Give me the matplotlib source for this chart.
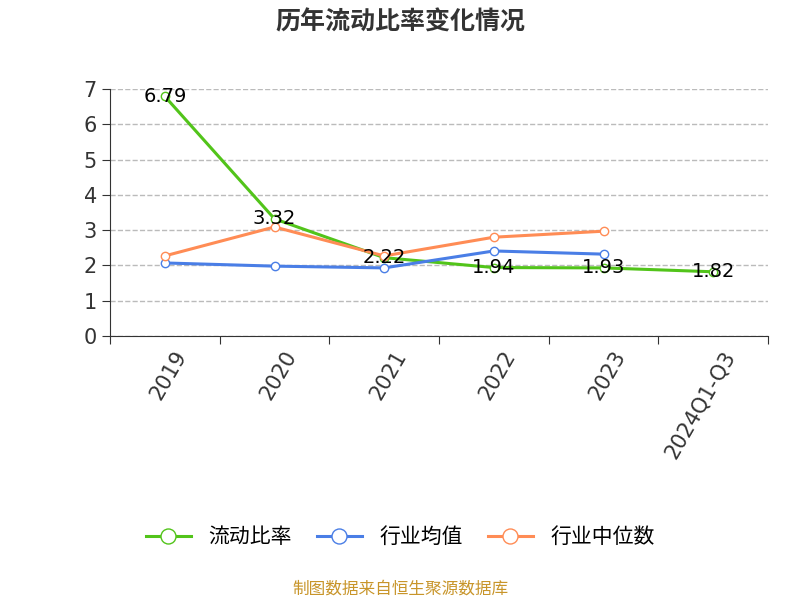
import matplotlib
matplotlib.use("Agg")
import matplotlib.pyplot as plt

plt.rcParams["font.family"] = ["Noto Sans CJK JP", "Noto Sans CJK SC", "Noto Sans CJK TC",
                               "Noto Sans CJK KR", "DejaVu Sans"]

categories = ["2019", "2020", "2021", "2022", "2023", "2024Q1-Q3"]
current_ratio = [6.79, 3.32, 2.22, 1.94, 1.93, 1.82]
industry_mean = [2.07, 1.98, 1.93, 2.41, 2.32]
industry_median = [2.27, 3.09, 2.27, 2.80, 2.97]

GREEN = "#52c41a"
BLUE = "#4a7ee6"
ORANGE = "#ff8c55"

fig = plt.figure(figsize=(8, 6), dpi=100)
ax = fig.add_axes([110 / 800, 1 - 336 / 600, 658 / 800, 247 / 600])

x = list(range(len(categories)))
ax.plot(x, current_ratio, color=GREEN, lw=2.2, marker="o", ms=6,
        mfc="white", mec=GREEN, label="流动比率", zorder=3)
ax.plot(x[:len(industry_mean)], industry_mean, color=BLUE, lw=2.2, marker="o", ms=6,
        mfc="white", mec=BLUE, label="行业均值", zorder=3)
ax.plot(x[:len(industry_median)], industry_median, color=ORANGE, lw=2.2, marker="o", ms=6,
        mfc="white", mec=ORANGE, label="行业中位数", zorder=3)

for i, v in enumerate(current_ratio):
    ax.text(i, v, f"{v:.2f}", ha="center", va="center", fontsize=14, color="black", zorder=4,
            fontfamily="DejaVu Sans")

ax.set_xlim(-0.5, len(categories) - 0.5)
ax.set_ylim(0, 7)
ax.set_yticks(range(8))
ax.set_xticks([i - 0.5 for i in range(len(categories) + 1)], minor=False)
ax.set_xticklabels([])
ax.set_xticks([i + 0.08 for i in x], minor=True)
ax.set_xticklabels(categories, minor=True, rotation=60, ha="right", rotation_mode="anchor",
                   fontsize=15, color="#333333", fontfamily="DejaVu Sans")
ax.tick_params(axis="x", which="minor", length=0, pad=8)
ax.tick_params(axis="x", which="major", length=6, color="#333333")
ax.tick_params(axis="y", labelsize=15, labelcolor="#333333", length=6, color="#333333")
for lbl in ax.get_yticklabels():
    lbl.set_fontfamily("DejaVu Sans")
ax.grid(axis="y", ls="--", color="#bbbbbb", lw=1)
for s in ["top", "right"]:
    ax.spines[s].set_visible(False)
ax.spines["left"].set_color("#333333")
ax.spines["bottom"].set_color("#333333")

fig.text(0.5, 1 - 22 / 600, "历年流动比率变化情况", ha="center", va="center",
         fontsize=18, fontweight="bold", color="#333333")
fig.legend(loc="center", bbox_to_anchor=(0.5, 1 - 537 / 600), ncol=3, frameon=False,
           fontsize=15, handlelength=2.2, columnspacing=1.2, markerscale=1.8)
fig.text(0.5, 1 - 589 / 600, "制图数据来自恒生聚源数据库", ha="center", va="center",
         fontsize=12, color="#c8952a")

fig.savefig("out.png", dpi=100)
